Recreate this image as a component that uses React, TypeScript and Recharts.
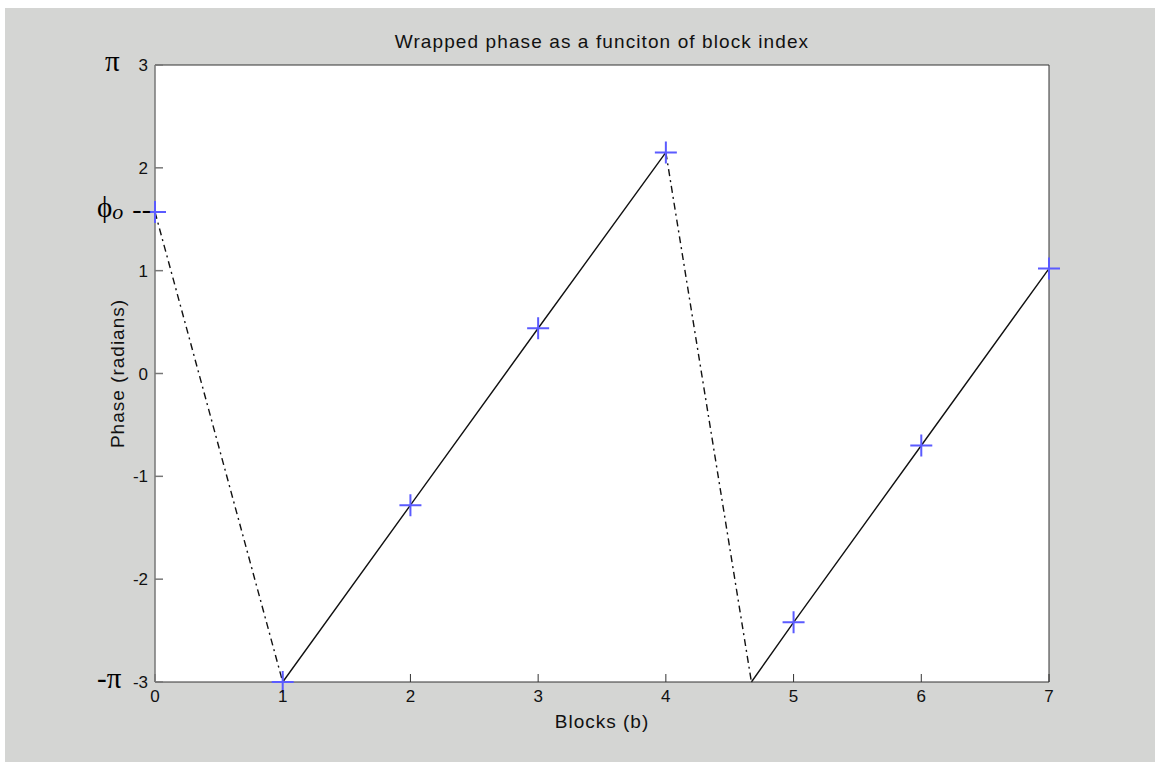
import {
  CartesianGrid,
  ComposedChart,
  Label,
  Line,
  Scatter,
  XAxis,
  YAxis,
} from "recharts";

// block index and wrapped phase
const blocks = [0, 1, 2, 3, 4, 5, 6, 7];
const phase = [1.57, -3.0, -1.28, 0.44, 2.15, -2.42, -0.7, 1.02];
// second ramp starts where the wrap hits the bottom
const wrapAt = { x: 4.67, y: -3 };

const xTicks = [0, 1, 2, 3, 4, 5, 6, 7];
const yTicks = [-3, -2, -1, 0, 1, 2, 3];
const symbolValues = [-3, 1.57, 3];
const symbolLabels = ["-π", "ϕ", "π"];

const points = blocks.map((b, i) => ({ x: b, y: phase[i] }));
const jump1 = points.slice(0, 2);
const ramp1 = points.slice(1, 5);
const jump2 = [points[4], wrapAt];
const ramp2 = [wrapAt, ...points.slice(5)];

const sans = "'Liberation Sans', Arial, sans-serif";
const serif = "'Liberation Serif', 'Times New Roman', serif";
const axisStroke = "#333";

const Plus = ({ cx, cy }: any) => (
  <path
    d={`M${cx - 11},${cy}H${cx + 11}M${cx},${cy - 11}V${cy + 11}`}
    stroke="#5b5bff"
    strokeWidth={2}
    fill="none"
  />
);

// y tick: the number, plus the hand-written symbol to the left where there is one
const renderYTick = ({ x, y, payload }: any) => {
  const v = payload.value;
  const i = symbolValues.indexOf(v);
  const label = i >= 0 ? symbolLabels[i] : null;
  const ax = x + 7; // axis line (tick margin minus inward tick)
  return (
    <g>
      {yTicks.includes(v) && (
        <text
          x={x}
          y={y}
          dy="0.36em"
          textAnchor="end"
          fontSize={17}
          fontFamily={sans}
          fill="#111"
        >
          {v}
        </text>
      )}
      {label === "ϕ" && (
        <g fontFamily={serif} fill="#000">
          <text x={ax - 58} y={y + 5} fontSize={29}>
            ϕ
            <tspan fontStyle="italic" fontSize={22} dy={2}>
              o
            </tspan>
          </text>
          <text x={ax - 4} y={y + 6} fontSize={28} textAnchor="end">
            --
          </text>
        </g>
      )}
      {label && label !== "ϕ" && (
        <text
          x={ax - (label === "π" ? 50 : 58)}
          y={y + 6}
          fontSize={29}
          fontFamily={serif}
          fill="#000"
        >
          {label}
        </text>
      )}
    </g>
  );
};

export default function App() {
  return (
    <div
      style={{
        position: "absolute",
        left: 0,
        top: 0,
        width: 1155,
        height: 762,
        background: "#ffffff",
      }}
    >
      <div
        style={{
          marginLeft: 5,
          marginTop: 8,
          width: 1150,
          height: 754,
          background: "#d4d5d3",
        }}
      >
        <ComposedChart
          width={1150}
          height={754}
          margin={{ top: 56, right: 105, bottom: 79, left: 149 }}
        >
          <CartesianGrid fill="#ffffff" stroke="none" horizontal={false} vertical={false} />
          <XAxis
            dataKey="x"
            type="number"
            domain={[0, 7]}
            ticks={xTicks}
            height={1}
            tickSize={-8}
            tickMargin={16}
            stroke={axisStroke}
            tick={{ fill: "#111", fontSize: 17, fontFamily: sans }}
          >
            <Label
              value="Blocks (b)"
              position="bottom"
              offset={32}
              fill="#111"
              fontSize={19}
              fontFamily={sans}
              letterSpacing={1}
            />
          </XAxis>
          <XAxis
            xAxisId="top"
            orientation="top"
            type="number"
            domain={[0, 7]}
            ticks={xTicks}
            height={1}
            tickSize={-8}
            tick={false}
            stroke={axisStroke}
          >
            <Label
              value="Wrapped phase as a funciton of block index"
              position="top"
              offset={16}
              fill="#111"
              fontSize={19}
              fontFamily={sans}
              letterSpacing={1.1}
            />
          </XAxis>
          <YAxis
            type="number"
            domain={[-3, 3]}
            ticks={[...yTicks, symbolValues[1]]}
            interval={0}
            width={1}
            tickSize={-8}
            tickMargin={15}
            stroke="#777"
            strokeWidth={1.5}
            tick={renderYTick}
          >
            <Label
              value="Phase (radians)"
              position="center"
              angle={-90}
              dx={-37}
              fill="#111"
              fontSize={19}
              fontFamily={sans}
              letterSpacing={1}
            />
          </YAxis>
          <YAxis
            yAxisId="right"
            orientation="right"
            type="number"
            domain={[-3, 3]}
            ticks={yTicks}
            width={1}
            tickSize={-8}
            tick={false}
            stroke={axisStroke}
          />
          <Line
            data={jump1}
            dataKey="y"
            stroke="#111"
            strokeWidth={1.4}
            strokeDasharray="7 4 2 4"
            dot={false}
            isAnimationActive={false}
          />
          <Line
            data={ramp1}
            dataKey="y"
            stroke="#111"
            strokeWidth={1.4}
            dot={false}
            isAnimationActive={false}
          />
          <Line
            data={jump2}
            dataKey="y"
            stroke="#111"
            strokeWidth={1.4}
            strokeDasharray="7 4 2 4"
            dot={false}
            isAnimationActive={false}
          />
          <Line
            data={ramp2}
            dataKey="y"
            stroke="#111"
            strokeWidth={1.4}
            dot={false}
            isAnimationActive={false}
          />
          <Scatter data={points} dataKey="y" shape={<Plus />} isAnimationActive={false} />
        </ComposedChart>
      </div>
    </div>
  );
}
